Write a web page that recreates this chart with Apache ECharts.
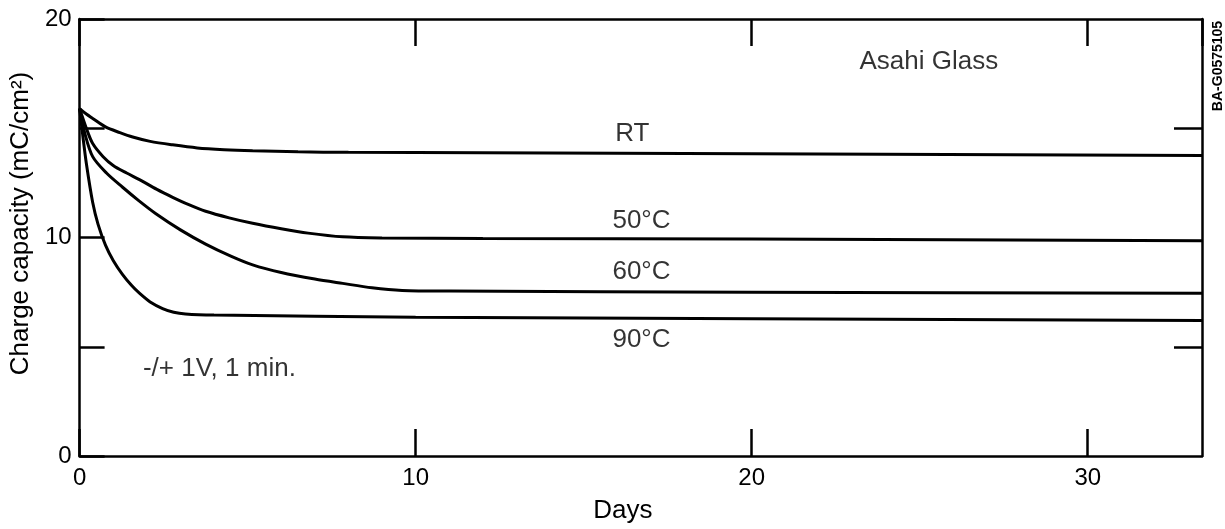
<!DOCTYPE html>
<html>
<head>
<meta charset="utf-8">
<title>Charge capacity vs days</title>
<script src="https://cdn.jsdelivr.net/npm/echarts@6/dist/echarts.min.js"></script>
<style>
  html, body { margin: 0; padding: 0; background: #fff; }
  #chart { width: 1225px; height: 529px; }
</style>
</head>
<body>
<div id="chart"></div>
<script>
// curves: [days, charge capacity mC/cm2]
const rtData = [[0, 15.9], [0.2, 15.65], [0.39, 15.45], [0.77, 15.06], [1.2, 14.8], [1.58, 14.6], [2.1, 14.4], [2.77, 14.24], [3.5, 14.1], [4.3, 14.02], [5.15, 13.97], [6.5, 13.92], [8, 13.9], [12, 13.88], [20, 13.83], [33.4, 13.75]];
const t50Data = [[0, 15.9], [0.2, 15.0], [0.39, 14.3], [0.7, 13.7], [1.0, 13.3], [1.4, 12.95], [1.78, 12.65], [2.3, 12.2], [2.77, 11.84], [3.25, 11.5], [3.75, 11.2], [4.45, 10.9], [5.15, 10.65], [6, 10.4], [6.8, 10.2], [7.83, 10.03], [9, 9.98], [12, 9.95], [20, 9.93], [33.4, 9.85]];
const t60Data = [[0, 15.9], [0.15, 14.8], [0.39, 13.7], [0.8, 12.95], [1.28, 12.3], [1.75, 11.7], [2.26, 11.1], [3.0, 10.35], [3.75, 9.7], [4.5, 9.15], [5.15, 8.75], [6.0, 8.4], [7.0, 8.1], [7.83, 7.9], [8.7, 7.7], [9.6, 7.58], [11, 7.55], [20, 7.5], [33.4, 7.45]];
const t90Data = [[0, 15.9], [0.1, 14.6], [0.2, 13.4], [0.39, 11.6], [0.55, 10.6], [0.77, 9.65], [1.0, 8.95], [1.28, 8.3], [1.55, 7.8], [1.78, 7.45], [2.1, 7.05], [2.47, 6.75], [2.8, 6.58], [3.15, 6.5], [4, 6.45], [10, 6.35], [20, 6.28], [33.4, 6.2]];

// text placed in data units
const noteTexts = ['RT', '50°C', '60°C', '90°C', 'Asahi Glass', '-/+ 1V, 1 min.'];
const noteDays = [16.45, 16.72, 16.72, 16.72, 25.27, 4.16];
const noteValues = [14.73, 10.77, 8.45, 5.32, 18.05, 4.0];

const xTicks = [0, 10, 20, 30];
const yLabels = [0, 10, 20];

const FONT = '"Liberation Sans", Arial, sans-serif';
const INK = '#000';

let chartDom = document.getElementById('chart');
let myChart = echarts.init(chartDom, null, { renderer: 'canvas' });

function curve(name, data) {
    return {
        name: name,
        type: 'line',
        data: data,
        showSymbol: false,
        smooth: 0.3,
        lineStyle: { color: INK, width: 3 },
        itemStyle: { color: INK },
        silent: true
    };
}

let option = {
    animation: false,
    backgroundColor: '#fff',
    grid: { left: 77, right: 23, top: 19, bottom: 70 },
    xAxis: [
        {
            type: 'value',
            min: 0,
            max: 33.4,
            interval: 10,
            position: 'bottom',
            axisLine: { onZero: false, lineStyle: { color: INK, width: 2.5 } },
            axisTick: { inside: true, length: 27, lineStyle: { color: INK, width: 2.5 } },
            splitLine: { show: false },
            axisLabel: {
                fontFamily: FONT, fontSize: 24, color: INK, margin: 10,
                showMaxLabel: false,
                formatter: function (v) { return xTicks.indexOf(v) >= 0 ? String(v) : ''; }
            },
            name: 'Days',
            nameLocation: 'middle',
            nameGap: 42,
            nameTextStyle: { fontFamily: FONT, fontSize: 26, color: INK, padding: [0, 36, 0, 0] }
        },
        {
            type: 'value',
            min: 0,
            max: 33.4,
            interval: 10,
            position: 'top',
            axisLine: { onZero: false, lineStyle: { color: INK, width: 2.5 } },
            axisTick: { inside: true, length: 27, lineStyle: { color: INK, width: 2.5 } },
            splitLine: { show: false },
            axisLabel: { show: false }
        }
    ],
    yAxis: [
        {
            type: 'value',
            min: 0,
            max: 20,
            interval: 5,
            position: 'left',
            axisLine: { show: true, onZero: false, lineStyle: { color: INK, width: 2.5 } },
            axisTick: { show: true, inside: true, length: 25, lineStyle: { color: INK, width: 2.5 } },
            splitLine: { show: false },
            axisLabel: {
                fontFamily: FONT, fontSize: 24, color: INK, margin: 8,
                formatter: function (v) { return yLabels.indexOf(v) >= 0 ? String(v) : ''; }
            },
            name: 'Charge capacity (mC/cm²)',
            nameLocation: 'middle',
            nameGap: 44,
            nameTextStyle: { fontFamily: FONT, fontSize: 26, color: INK, padding: [0, 0, 0, 28] }
        },
        {
            type: 'value',
            min: 0,
            max: 20,
            interval: 5,
            position: 'right',
            axisLine: { show: true, onZero: false, lineStyle: { color: INK, width: 2.5 } },
            axisTick: { show: true, inside: true, length: 28, customValues: [5, 15], lineStyle: { color: INK, width: 2.5 } },
            splitLine: { show: false },
            axisLabel: { show: false }
        }
    ],
    series: [
        curve('RT', rtData),
        curve('50°C', t50Data),
        curve('60°C', t60Data),
        curve('90°C', t90Data),
        {
            name: 'notes',
            type: 'scatter',
            symbolSize: 1,
            itemStyle: { color: 'rgba(0,0,0,0)' },
            silent: true,
            data: noteTexts.map(function (t, i) { return [noteDays[i], noteValues[i], t]; }),
            label: {
                show: true,
                position: 'inside',
                fontFamily: FONT,
                fontSize: 26,
                color: INK,
                formatter: function (p) { return p.data[2]; }
            }
        }
    ],
    graphic: [
        {
            type: 'text',
            x: 1218,
            y: 66,
            rotation: Math.PI / 2,
            style: {
                text: 'BA-G0575105',
                font: 'bold 14px ' + FONT,
                fill: INK,
                align: 'center',
                verticalAlign: 'middle'
            }
        }
    ]
};

myChart.setOption(option);
window.addEventListener('resize', () => {
    myChart.resize();
});
</script>
</body>
</html>
